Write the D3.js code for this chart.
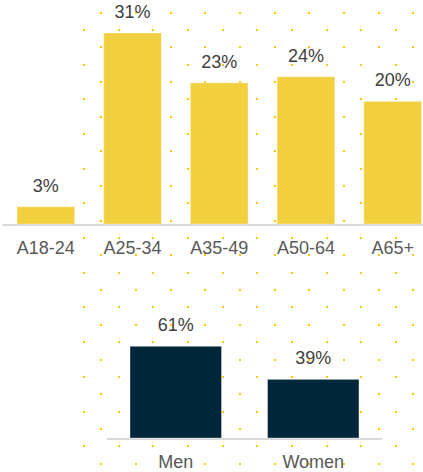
<!DOCTYPE html>
<html>
<head>
<meta charset="utf-8">
<script src="https://cdn.jsdelivr.net/npm/d3@7"></script>
<style>
  html, body { margin: 0; padding: 0; background: #fff; }
  svg { display: block; font-family: "Liberation Sans", Arial, sans-serif; }
</style>
</head>
<body>
<svg id="chart" width="423" height="472"></svg>
<script>
// age groups (top chart)
const ageGroups = ["A18-24", "A25-34", "A35-49", "A50-64", "A65+"];
const ageValues = [2.8, 31, 22.9, 23.9, 19.9];

// gender (bottom chart)
const genders = ["Men", "Women"];
const genderValues = [61, 39];

const svg = d3.select("#chart");
const W = 423, H = 472;

// dotted background (decoration), snapped to whole pixels so dots stay crisp
const dotStep = 17.34;
const dots = [];
for (let r = 0; 12.7 + r * dotStep < H; r++) {
  const cy = 12.7 + r * dotStep;
  for (let c = (r % 2 === 0 ? 1 : 0); 84 + c * dotStep < W; c += 2) {
    dots.push([84 + c * dotStep, cy]);
  }
}
svg.append("g").selectAll("rect")
  .data(dots)
  .enter().append("rect")
  .attr("x", d => Math.round(d[0] - 1))
  .attr("y", d => Math.round(d[1] - 1))
  .attr("width", 2).attr("height", 2)
  .attr("fill", "#fac800");

const fmt = v => Math.round(v) + "%";

function barChart(opts) {
  const g = svg.append("g");
  const x = d3.scaleBand().domain(opts.cats).range(opts.xRange)
    .paddingInner(0.335).paddingOuter(0.1675);
  const y = d3.scaleLinear().domain([0, d3.max(opts.values)]).range([opts.base, opts.top]);
  const data = opts.cats.map((c, i) => ({ cat: c, value: opts.values[i] }));

  // baseline
  g.append("line")
    .attr("x1", opts.lineX[0]).attr("x2", opts.lineX[1])
    .attr("y1", opts.base + 1).attr("y2", opts.base + 1)
    .attr("stroke", "#d9d9d9").attr("stroke-width", 2);

  g.selectAll(".bar")
    .data(data)
    .enter().append("rect")
    .attr("class", "bar")
    .attr("x", d => x(d.cat))
    .attr("y", d => y(d.value))
    .attr("width", x.bandwidth())
    .attr("height", d => opts.base - y(d.value))
    .attr("fill", opts.color)
    .attr("stroke", "#ffffff")
    .attr("stroke-opacity", 0.35)
    .attr("stroke-width", 1);

  g.selectAll(".val")
    .data(data)
    .enter().append("text")
    .attr("class", "val")
    .attr("x", d => x(d.cat) + x.bandwidth() / 2)
    .attr("y", d => y(d.value) - 15)
    .attr("text-anchor", "middle")
    .attr("font-size", 18)
    .attr("fill", "#404040")
    .text(d => fmt(d.value));

  g.selectAll(".cat")
    .data(data)
    .enter().append("text")
    .attr("class", "cat")
    .attr("x", d => x(d.cat) + x.bandwidth() / 2)
    .attr("y", opts.base + 30)
    .attr("text-anchor", "middle")
    .attr("font-size", 18)
    .attr("fill", "#595959")
    .text(d => d.cat);
}

barChart({
  cats: ageGroups, values: ageValues,
  xRange: [2.5, 436], lineX: [2.5, W],
  base: 224, top: 33, color: "#f2cf3e"
});

barChart({
  cats: genders, values: genderValues,
  xRange: [107, 382], lineX: [107, 382],
  base: 438, top: 346.3, color: "#00263a"
});
</script>
</body>
</html>
